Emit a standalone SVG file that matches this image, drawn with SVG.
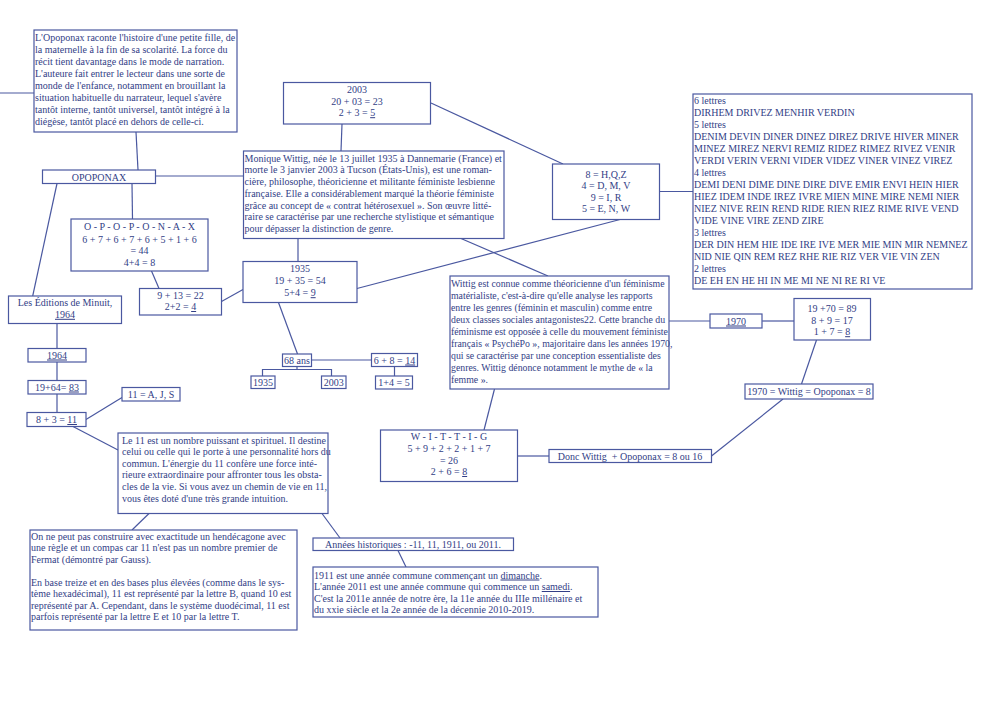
<svg xmlns="http://www.w3.org/2000/svg" width="1000" height="707" viewBox="0 0 1000 707">
<style>
.bg{fill:#ffffff}
.box{fill:#ffffff;stroke:#4a58a0;stroke-width:1.2}
.ln{stroke:#4a58a0;stroke-width:1.2;fill:none}
text{font-family:"Liberation Serif","Times New Roman",serif;font-size:10px;fill:#323e86}
.c{text-anchor:middle}
.u{text-decoration:underline}
.sm{font-size:9.8px}
</style>
<rect class="bg" x="0" y="0" width="1000" height="707"/>
<g id="connectors">
<line class="ln" x1="0" y1="93" x2="34" y2="93"/>
<line class="ln" x1="136" y1="132" x2="138" y2="170"/>
<line class="ln" x1="155.5" y1="176" x2="243.5" y2="176"/>
<line class="ln" x1="132" y1="183.5" x2="132.5" y2="219"/>
<line class="ln" x1="57" y1="183.5" x2="32.7" y2="296"/>
<line class="ln" x1="151.5" y1="271" x2="159" y2="288.5"/>
<line class="ln" x1="221.5" y1="301.5" x2="243" y2="289.5"/>
<line class="ln" x1="57" y1="323.5" x2="57" y2="348.5"/>
<line class="ln" x1="57" y1="362" x2="57" y2="380.5"/>
<line class="ln" x1="57" y1="394" x2="57" y2="412.5"/>
<line class="ln" x1="86" y1="419.5" x2="122" y2="397.5"/>
<line class="ln" x1="73" y1="426.5" x2="118" y2="450"/>
<line class="ln" x1="149" y1="513.5" x2="132" y2="530"/>
<line class="ln" x1="322" y1="513.5" x2="340" y2="538"/>
<line class="ln" x1="398" y1="550.5" x2="406" y2="567"/>
<line class="ln" x1="298" y1="238.5" x2="298" y2="261.5"/>
<line class="ln" x1="342" y1="124" x2="341" y2="151"/>
<line class="ln" x1="431" y1="103" x2="563" y2="164"/>
<line class="ln" x1="357" y1="288.5" x2="620" y2="219.5"/>
<line class="ln" x1="659.5" y1="191.5" x2="693" y2="191.5"/>
<line class="ln" x1="461" y1="238.5" x2="548" y2="276"/>
<line class="ln" x1="278.5" y1="302.5" x2="297.5" y2="354"/>
<line class="ln" x1="311.5" y1="360" x2="371.5" y2="360"/>
<line class="ln" x1="394.5" y1="366.5" x2="394.5" y2="376"/>
<polyline class="ln" points="297,366.5 297,369.5"/>
<polyline class="ln" points="262.5,376 262.5,369.5 331.5,369.5 331.5,376"/>
<line class="ln" x1="669" y1="321" x2="710" y2="321"/>
<line class="ln" x1="762" y1="321" x2="794" y2="321"/>
<line class="ln" x1="816.5" y1="340" x2="801.5" y2="384"/>
<line class="ln" x1="783" y1="399" x2="711.5" y2="456"/>
<line class="ln" x1="494.5" y1="389" x2="484" y2="430"/>
<line class="ln" x1="517.5" y1="456" x2="549" y2="456"/>
</g>
<g id="n-intro">
<rect class="box" x="34" y="30" width="203" height="102"/>
<text x="35" y="41">L'Opoponax raconte l'histoire d'une petite fille, de</text>
<text x="35" y="53">la maternelle à la fin de sa scolarité. La force du</text>
<text x="35" y="65">récit tient davantage dans le mode de narration.</text>
<text x="35" y="77">L'auteure fait entrer le lecteur dans une sorte de</text>
<text x="35" y="89">monde de l'enfance, notamment en brouillant la</text>
<text x="35" y="101">situation habituelle du narrateur, lequel s'avère</text>
<text x="35" y="113">tantôt interne, tantôt universel, tantôt intégré à la</text>
<text x="35" y="125">diégèse, tantôt placé en dehors de celle-ci.</text>
</g>
<g id="n-opoponax">
<rect class="box" x="42.5" y="170" width="113" height="13.5"/>
<text class="c" x="99" y="180.5">OPOPONAX</text>
</g>
<g id="n-letters">
<rect class="box" x="71" y="219" width="137" height="52"/>
<text class="c" x="139.5" y="230.2">O - P - O - P - O - N - A - X</text>
<text class="c" x="139.5" y="242.5">6 + 7 + 6 + 7 + 6 + 5 + 1 + 6</text>
<text class="c" x="139.5" y="253.8">= 44</text>
<text class="c" x="139.5" y="266.2">4+4 = 8</text>
</g>
<g id="n-922">
<rect class="box" x="139.5" y="288.5" width="82" height="26.5"/>
<text class="c" x="180.5" y="298.5">9 + 13 = 22</text>
<text class="c" x="180.5" y="310">2+2 = <tspan class="u">4</tspan></text>
</g>
<g id="n-minuit">
<rect class="box" x="8.5" y="296" width="113" height="27.5"/>
<text class="c" x="65" y="306">Les Éditions de Minuit,</text>
<text class="c u" x="65" y="317.8">1964</text>
</g>
<g id="n-1964">
<rect class="box" x="28" y="348.5" width="58" height="13.5"/>
<text class="c u" x="57" y="358.5">1964</text>
</g>
<g id="n-83">
<rect class="box" x="28" y="380.5" width="58" height="13.5"/>
<text class="c" x="57" y="390.5">19+64= <tspan class="u">83</tspan></text>
</g>
<g id="n-11">
<rect class="box" x="27" y="412.5" width="59" height="14"/>
<text class="c" x="56.5" y="423">8 + 3 = <tspan class="u">11</tspan></text>
</g>
<g id="n-ajs">
<rect class="box" x="122" y="387.5" width="58" height="13.5"/>
<text class="c" x="151" y="397.5">11 = A, J, S</text>
</g>
<g id="n-2003">
<rect class="box" x="283.5" y="82.5" width="147" height="41.5"/>
<text class="c" x="357" y="92.5">2003</text>
<text class="c" x="357" y="104.5">20 + 03 = 23</text>
<text class="c" x="357" y="116.2">2 + 3 = <tspan class="u">5</tspan></text>
</g>
<g id="n-monique">
<rect class="box" x="243.5" y="151" width="260.5" height="87.5"/>
<text x="244.5" y="161.5">Monique Wittig, née le 13 juillet 1935 à Dannemarie (France) et</text>
<text x="244.5" y="173.3">morte le 3 janvier 2003 à Tucson (États-Unis), est une roman-</text>
<text x="244.5" y="185">cière, philosophe, théoricienne et militante féministe lesbienne</text>
<text x="244.5" y="196.8">française. Elle a considérablement marqué la théorie féministe</text>
<text x="244.5" y="208.6">grâce au concept de « contrat hétérosexuel ». Son œuvre litté-</text>
<text x="244.5" y="220.4">raire se caractérise par une recherche stylistique et sémantique</text>
<text x="244.5" y="232.2">pour dépasser la distinction de genre.</text>
</g>
<g id="n-1935">
<rect class="box" x="243" y="261.5" width="114" height="41"/>
<text class="c" x="300" y="271.8">1935</text>
<text class="c" x="300" y="284.2">19 + 35 = 54</text>
<text class="c" x="300" y="296.2">5+4 = <tspan class="u">9</tspan></text>
</g>
<g id="n-68">
<rect class="box" x="282.5" y="354" width="29" height="12.5"/>
<text class="c" x="297" y="363.8">68 ans</text>
</g>
<g id="n-1935s">
<rect class="box" x="251" y="376" width="24" height="12.5"/>
<text class="c" x="263" y="385.8">1935</text>
</g>
<g id="n-2003s">
<rect class="box" x="321.5" y="376" width="24.5" height="12.5"/>
<text class="c" x="333.7" y="385.8">2003</text>
</g>
<g id="n-14">
<rect class="box" x="371.5" y="353.5" width="46" height="13"/>
<text class="c" x="394.5" y="363.5">6 + 8 = <tspan class="u">14</tspan></text>
</g>
<g id="n-5">
<rect class="box" x="375.5" y="376" width="37" height="13"/>
<text class="c" x="394" y="386">1+4 = 5</text>
</g>
<g id="n-hqz">
<rect class="box" x="552.5" y="164" width="107" height="55.5"/>
<text class="c" x="606" y="177.5">8 = H,Q,Z</text>
<text class="c" x="606" y="189">4 = D, M, V</text>
<text class="c" x="606" y="200.5">9 = I, R</text>
<text class="c" x="606" y="212">5 = E, N, W</text>
</g>
<g id="n-words">
<rect class="box" x="693" y="94" width="279" height="195"/>
<text x="694" y="103.5">6 lettres</text>
<text x="694" y="115.5">DIRHEM DRIVEZ MENHIR VERDIN</text>
<text x="694" y="127.5">5 lettres</text>
<text x="694" y="139.5">DENIM DEVIN DINER DINEZ DIREZ DRIVE HIVER MINER</text>
<text x="694" y="151.5">MINEZ MIREZ NERVI REMIZ RIDEZ RIMEZ RIVEZ VENIR</text>
<text x="694" y="163.5">VERDI VERIN VERNI VIDER VIDEZ VINER VINEZ VIREZ</text>
<text x="694" y="175.5">4 lettres</text>
<text x="694" y="187.5">DEMI DENI DIME DINE DIRE DIVE EMIR ENVI HEIN HIER</text>
<text x="694" y="199.5">HIEZ IDEM INDE IREZ IVRE MIEN MINE MIRE NEMI NIER</text>
<text x="694" y="211.5">NIEZ NIVE REIN REND RIDE RIEN RIEZ RIME RIVE VEND</text>
<text x="694" y="223.5">VIDE VINE VIRE ZEND ZIRE</text>
<text x="694" y="235.5">3 lettres</text>
<text x="694" y="247.5">DER DIN HEM HIE IDE IRE IVE MER MIE MIN MIR NEMNEZ</text>
<text x="694" y="259.5">NID NIE QIN REM REZ RHE RIE RIZ VER VIE VIN ZEN</text>
<text x="694" y="271.5">2 lettres</text>
<text x="694" y="283.5">DE EH EN HE HI IN ME MI NE NI RE RI VE</text>
</g>
<g id="n-wittig">
<rect class="box" x="450" y="276" width="219" height="113"/>
<text class="sm" x="451" y="286.5">Wittig est connue comme théoricienne d'un féminisme</text>
<text class="sm" x="451" y="298.6">matérialiste, c'est-à-dire qu'elle analyse les rapports</text>
<text class="sm" x="451" y="310.7">entre les genres (féminin et masculin) comme entre</text>
<text class="sm" x="451" y="322.8">deux classes sociales antagonistes22. Cette branche du</text>
<text class="sm" x="451" y="334.9">féminisme est opposée à celle du mouvement féministe</text>
<text class="sm" x="451" y="347">français « PsychéPo », majoritaire dans les années 1970,</text>
<text class="sm" x="451" y="359.1">qui se caractérise par une conception essentialiste des</text>
<text class="sm" x="451" y="371.2">genres. Wittig dénonce notamment le mythe de « la</text>
<text class="sm" x="451" y="383.3">femme ».</text>
</g>
<g id="n-1970">
<rect class="box" x="710" y="314" width="52" height="14"/>
<text class="c u" x="736" y="324.5">1970</text>
</g>
<g id="n-1970calc">
<rect class="box" x="794" y="298.5" width="76.5" height="41.5"/>
<text class="c" x="832" y="311.8">19 +70 = 89</text>
<text class="c" x="832" y="323.5">8 + 9  = 17</text>
<text class="c" x="832" y="335.2">1 + 7 = <tspan class="u">8</tspan></text>
</g>
<g id="n-eq8">
<rect class="box" x="745" y="384" width="128" height="15"/>
<text class="c" x="809" y="395">1970 = Wittig = Opoponax = 8</text>
</g>
<g id="n-witt">
<rect class="box" x="380.5" y="430" width="137" height="51.5"/>
<text class="c" x="449" y="440">W - I - T - T - I - G</text>
<text class="c" x="449" y="451.5">5 + 9 + 2 + 2 + 1 + 7</text>
<text class="c" x="449" y="463.5">= 26</text>
<text class="c" x="449" y="475">2 + 6 = <tspan class="u">8</tspan></text>
</g>
<g id="n-donc">
<rect class="box" x="549" y="449.5" width="162.5" height="13"/>
<text class="c" x="630" y="459.5">Donc Wittig&#160; + Opoponax = 8 ou 16</text>
</g>
<g id="n-le11">
<rect class="box" x="118" y="433" width="210" height="80.5"/>
<text x="122" y="443.5">Le 11 est un nombre puissant et spirituel. Il destine</text>
<text x="122" y="455.1">celui ou celle qui le porte à une personnalité hors du</text>
<text x="122" y="466.7">commun. L'énergie du 11 confère une force inté-</text>
<text x="122" y="478.3">rieure extraordinaire pour affronter tous les obsta-</text>
<text x="122" y="489.9">cles de la vie. Si vous avez un chemin de vie en 11,</text>
<text x="122" y="501.5">vous êtes doté d'une très grande intuition.</text>
</g>
<g id="n-gauss">
<rect class="box" x="30" y="530" width="267" height="100"/>
<text x="31" y="539.5">On ne peut pas construire avec exactitude un hendécagone avec</text>
<text x="31" y="551">une règle et un compas car 11 n'est pas un nombre premier de</text>
<text x="31" y="562.5">Fermat (démontré par Gauss).</text>
<text x="31" y="585.5">En base treize et en des bases plus élevées (comme dans le sys-</text>
<text x="31" y="597">tème hexadécimal), 11 est représenté par la lettre B, quand 10 est</text>
<text x="31" y="608.5">représenté par A. Cependant, dans le système duodécimal, 11 est</text>
<text x="31" y="620">parfois représenté par la lettre E et 10 par la lettre T.</text>
</g>
<g id="n-annees">
<rect class="box" x="313" y="538" width="200.5" height="12.5"/>
<text class="c" x="413" y="547.5">Années historiques : -11, 11, 1911, ou 2011.</text>
</g>
<g id="n-1911">
<rect class="box" x="313" y="567" width="285" height="50"/>
<text x="314" y="578.5">1911 est une année commune commençant un <tspan class="u">dimanche</tspan>.</text>
<text x="314" y="590">L'année 2011 est une année commune qui commence un <tspan class="u">samedi</tspan>.</text>
<text x="314" y="601.5">C'est la 2011e année de notre ère, la 11e année du IIIe millénaire et</text>
<text x="314" y="613">du xxie siècle et la 2e année de la décennie 2010-2019.</text>
</g>
</svg>
